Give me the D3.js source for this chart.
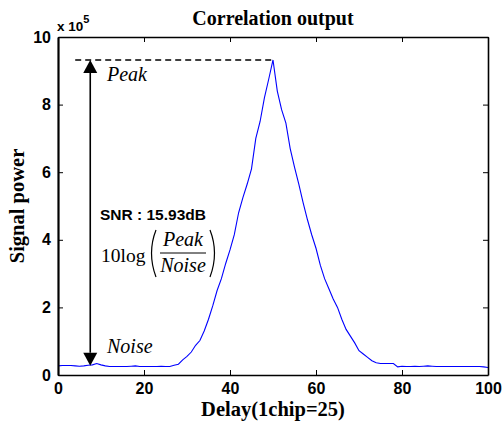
<!DOCTYPE html>
<html>
<head>
<meta charset="utf-8">
<script src="https://cdn.jsdelivr.net/npm/d3@7"></script>
<style>
  html, body { margin: 0; padding: 0; background: #fff; }
  svg { display: block; }
</style>
</head>
<body>
<svg id="chart" width="502" height="425"></svg>
<script>
// delay (chips*25) and correlation output (x 10^5)
const delays = [0, 1, 2, 3, 4, 5, 6, 7, 8, 9, 10, 11, 12, 13, 14, 15, 16, 17, 18, 19, 20,
  21, 22, 23, 24, 25, 26, 27, 28, 29, 30, 31, 32, 33, 34, 35, 36, 37, 38, 39, 40,
  41, 42, 43, 44, 45, 46, 47, 48, 49, 50, 51, 52, 53, 54, 55, 56, 57, 58, 59, 60,
  61, 62, 63, 64, 65, 66, 67, 68, 69, 70, 71, 72, 73, 74, 75, 76, 77, 78, 79, 80,
  81, 82, 83, 84, 85, 86, 87, 88, 89, 90, 91, 92, 93, 94, 95, 96, 97, 98, 99, 100];
const power = [0.27, 0.28, 0.28, 0.28, 0.27, 0.26, 0.27, 0.29, 0.30, 0.34, 0.30,
  0.27, 0.25, 0.25, 0.25, 0.25, 0.25, 0.26, 0.27, 0.25, 0.25,
  0.25, 0.25, 0.25, 0.26, 0.25, 0.25, 0.29, 0.32, 0.45, 0.55,
  0.68, 0.88, 1.02, 1.30, 1.65, 2.05, 2.50, 2.85, 3.30, 3.70,
  4.15, 4.80, 5.25, 5.65, 6.10, 7.00, 7.50, 8.20, 8.75, 9.32,
  8.40, 7.85, 7.45, 6.70, 6.15, 5.65, 5.10, 4.60, 4.15, 3.75,
  3.25, 2.85, 2.55, 2.25, 2.00, 1.65, 1.35, 1.15, 0.95, 0.72,
  0.62, 0.52, 0.42, 0.36, 0.34, 0.34, 0.34, 0.34, 0.24, 0.26,
  0.25, 0.25, 0.26, 0.25, 0.26, 0.27, 0.26, 0.25, 0.25, 0.25,
  0.25, 0.25, 0.25, 0.25, 0.25, 0.25, 0.25, 0.25, 0.24, 0.22];

const xTicks = [0, 20, 40, 60, 80, 100];
const yTicks = [0, 2, 4, 6, 8, 10];

const titleText = 'Correlation output';
const xLabel = 'Delay(1chip=25)';
const yLabel = 'Signal power';
const snrText = 'SNR : 15.93dB';

// annotation anchors in data units
const arrowDelay = 7.5;
const peakDelay = 50;
const peakValue = 9.32;
const noiseValue = 0.27;
const dashStart = 4;

const margin = { left: 58, right: 14, top: 37, bottom: 50 };
const width = 502, height = 425;
const svg = d3.select('#chart');

const x = d3.scaleLinear().domain([0, 100]).range([margin.left, width - margin.right]);
const y = d3.scaleLinear().domain([0, 10]).range([height - margin.bottom, margin.top]);

const tickFont = 'Arial, "Liberation Sans", sans-serif';
const serif = '"Times New Roman", "Liberation Serif", serif';

// curve
const line = d3.line()
  .x((d, i) => x(delays[i]))
  .y(d => y(d));

svg.append('path')
  .datum(power)
  .attr('fill', 'none')
  .attr('stroke', '#0000ff')
  .attr('stroke-width', 1.1)
  .attr('d', line);

// axes (box with inward ticks)
const axBottom = d3.axisBottom(x).tickValues(xTicks).tickSizeInner(-5).tickSizeOuter(0).tickPadding(8);
const axTop = d3.axisTop(x).tickValues(xTicks).tickSizeInner(-5).tickSizeOuter(0).tickFormat('');
const axLeft = d3.axisLeft(y).tickValues(yTicks).tickSizeInner(-5).tickSizeOuter(0).tickPadding(7);
const axRight = d3.axisRight(y).tickValues(yTicks).tickSizeInner(-5).tickSizeOuter(0).tickFormat('');

function styleAxis(g) {
  g.select('.domain').attr('stroke', '#000').attr('stroke-width', 1.6);
  g.selectAll('.tick line').attr('stroke', '#000').attr('stroke-width', 1);
  g.selectAll('.tick text')
    .attr('fill', '#000')
    .attr('font-family', tickFont)
    .attr('font-weight', 'bold')
    .attr('font-size', '16px');
}

svg.append('g').attr('transform', `translate(0,${y(0)})`).call(axBottom).call(styleAxis);
svg.append('g').attr('transform', `translate(0,${y(10)})`).call(axTop).call(styleAxis);
svg.append('g').attr('transform', `translate(${x(0)},0)`).call(axLeft).call(styleAxis)
  .select('.domain').attr('stroke-width', 2.2);
svg.append('g').attr('transform', `translate(${x(100)},0)`).call(axRight).call(styleAxis);

// exponent
const expo = svg.append('text')
  .attr('x', x(0) - 1)
  .attr('y', y(10) - 6)
  .attr('font-family', tickFont)
  .attr('font-weight', 'bold')
  .attr('font-size', '13.5px')
  .attr('fill', '#000');
expo.append('tspan').text('x 10');
expo.append('tspan').attr('dy', -8).attr('font-size', '11px').text('5');

// title and axis labels
svg.append('text')
  .attr('x', (x(0) + x(100)) / 2)
  .attr('y', 25)
  .attr('text-anchor', 'middle')
  .attr('font-family', serif)
  .attr('font-weight', 'bold')
  .attr('font-size', '20px')
  .text(titleText);

svg.append('text')
  .attr('x', (x(0) + x(100)) / 2)
  .attr('y', 416)
  .attr('text-anchor', 'middle')
  .attr('font-family', serif)
  .attr('font-weight', 'bold')
  .attr('font-size', '20.5px')
  .text(xLabel);

svg.append('text')
  .attr('transform', `translate(24,${(y(0) + y(10)) / 2}) rotate(-90)`)
  .attr('text-anchor', 'middle')
  .attr('font-family', serif)
  .attr('font-weight', 'bold')
  .attr('font-size', '20.5px')
  .text(yLabel);

// dashed peak level
svg.append('line')
  .attr('x1', x(dashStart)).attr('x2', x(peakDelay))
  .attr('y1', y(peakValue)).attr('y2', y(peakValue))
  .attr('stroke', '#000')
  .attr('stroke-width', 1.6)
  .attr('stroke-dasharray', '6,4');

// double-headed arrow
const ax = x(arrowDelay);
const yTop = y(peakValue);
const yBot = y(noiseValue);
const headH = 13, headW = 7;
svg.append('line')
  .attr('x1', ax).attr('x2', ax)
  .attr('y1', yTop + headH).attr('y2', yBot - headH)
  .attr('stroke', '#000')
  .attr('stroke-width', 1.6);
svg.append('path')
  .attr('d', `M${ax},${yTop} L${ax - headW},${yTop + headH} L${ax + headW},${yTop + headH} Z`)
  .attr('fill', '#000');
svg.append('path')
  .attr('d', `M${ax},${yBot} L${ax - headW},${yBot - headH} L${ax + headW},${yBot - headH} Z`)
  .attr('fill', '#000');

// labels
function italic(txt, px, py, size) {
  return svg.append('text')
    .attr('x', px).attr('y', py)
    .attr('font-family', serif)
    .attr('font-style', 'italic')
    .attr('font-size', size + 'px')
    .attr('fill', '#000')
    .text(txt);
}
italic('Peak', 107, 81, 20);
italic('Noise', 107, 353, 20);

svg.append('text')
  .attr('x', 100).attr('y', 220)
  .attr('font-family', tickFont)
  .attr('font-weight', 'bold')
  .attr('font-size', '15.5px')
  .text(snrText);

// 10log(Peak/Noise)
svg.append('text')
  .attr('x', 101).attr('y', 262)
  .attr('font-family', serif)
  .attr('font-size', '19.5px')
  .text('10log');
svg.append('path')
  .attr('d', 'M156,230 Q147,253 156,277')
  .attr('fill', 'none').attr('stroke', '#000').attr('stroke-width', 1.2);
svg.append('path')
  .attr('d', 'M210,230 Q219,253 210,277')
  .attr('fill', 'none').attr('stroke', '#000').attr('stroke-width', 1.2);
italic('Peak', 183, 246, 20).attr('text-anchor', 'middle');
svg.append('line')
  .attr('x1', 160).attr('x2', 206)
  .attr('y1', 253).attr('y2', 253)
  .attr('stroke', '#000').attr('stroke-width', 1);
italic('Noise', 183, 272, 20).attr('text-anchor', 'middle');
</script>
</body>
</html>
